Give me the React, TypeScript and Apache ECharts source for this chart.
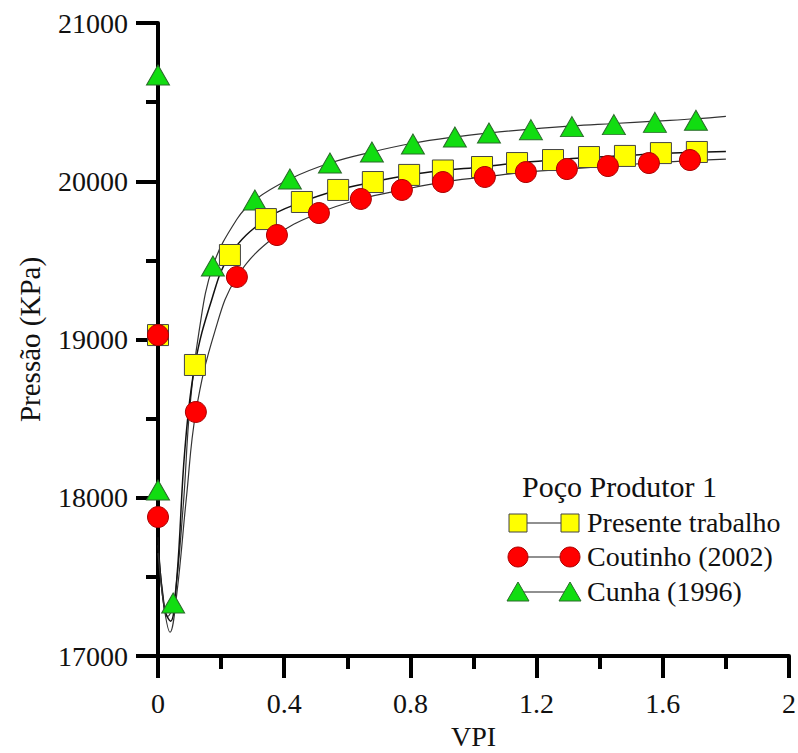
import React, { useEffect, useRef } from "react";
import * as echarts from "echarts";

// ---- Data ----
const squareX = [0, 0.117, 0.228, 0.342, 0.456, 0.571, 0.681, 0.796, 0.903, 1.027, 1.138, 1.252, 1.366, 1.48, 1.594, 1.708];
const squareY = [19028, 18839, 19534, 19761, 19869, 19945, 19995, 20040, 20068, 20090, 20115, 20134, 20153, 20160, 20178, 20185];

const circleX = [0, 0, 0.12, 0.25, 0.377, 0.51, 0.643, 0.773, 0.903, 1.036, 1.166, 1.296, 1.426, 1.556, 1.686];
const circleY = [19028, 17878, 18542, 19395, 19660, 19799, 19888, 19945, 19995, 20027, 20058, 20077, 20096, 20115, 20134];

const triX = [0, 0, 0.048, 0.174, 0.307, 0.418, 0.545, 0.678, 0.808, 0.941, 1.049, 1.182, 1.312, 1.445, 1.575, 1.705];
const triY = [20671, 18049, 17335, 19464, 19882, 20014, 20115, 20185, 20235, 20280, 20305, 20326, 20345, 20358, 20372, 20385];

// fitted curves
const curveSqX = [0, 0.02, 0.04, 0.06, 0.085, 0.117, 0.17, 0.228, 0.342, 0.456, 0.571, 0.681, 0.796, 0.903, 1.027, 1.138, 1.252, 1.366, 1.48, 1.594, 1.708, 1.8];
const curveSqY = [17750, 17300, 17220, 17500, 18300, 18839, 19250, 19534, 19761, 19869, 19945, 19995, 20040, 20068, 20090, 20115, 20134, 20150, 20162, 20175, 20183, 20188];

const curveCiX = [0, 0.02, 0.038, 0.06, 0.09, 0.12, 0.18, 0.25, 0.377, 0.51, 0.643, 0.773, 0.903, 1.036, 1.166, 1.296, 1.426, 1.556, 1.686, 1.8];
const curveCiY = [17650, 17300, 17150, 17400, 18000, 18542, 19050, 19395, 19660, 19799, 19888, 19945, 19995, 20027, 20058, 20077, 20096, 20115, 20130, 20140];

const curveTrX = [0, 0.015, 0.03, 0.05, 0.08, 0.1, 0.13, 0.174, 0.25, 0.307, 0.418, 0.545, 0.678, 0.808, 0.941, 1.049, 1.182, 1.312, 1.445, 1.575, 1.705, 1.8];
const curveTrY = [17700, 17400, 17250, 17330, 17950, 18550, 19050, 19464, 19760, 19882, 20014, 20115, 20185, 20240, 20280, 20305, 20330, 20350, 20365, 20380, 20395, 20410];

const legendTitle = "Poço Produtor 1";
const legendNames = ["Presente trabalho", "Coutinho (2002)", "Cunha (1996)"];

const FONT = "Liberation Serif";
const SQ_COLOR = "#ffff00";
const CI_COLOR = "#ff0000";
const TR_COLOR = "#11dd11";

const zip = (xs: number[], ys: number[]) => xs.map((x, i) => [x, ys[i]]);

export default function App() {
  const ref = useRef<HTMLDivElement>(null);
  useEffect(() => {
    if (!ref.current) return;
    const chart = echarts.init(ref.current, null, { renderer: "svg" });

    const curveStyle = { color: "#333", width: 1.2 };
    const legendY = [523, 557, 592];
    const lx1 = 518, lx2 = 570, tx = 587;

    const legendGraphics: any[] = [
      {
        type: "text", left: 522, top: 471,
        style: { text: legendTitle, fontFamily: FONT, fontSize: 30, fill: "#111" },
      },
    ];
    legendY.forEach((y, i) => {
      legendGraphics.push({ type: "line", shape: { x1: lx1, y1: y, x2: lx2, y2: y }, style: { stroke: "#222", lineWidth: 1.2 } });
      [lx1, lx2].forEach((cx) => {
        if (i === 0) legendGraphics.push({ type: "rect", shape: { x: cx - 9, y: y - 9, width: 18, height: 18 }, style: { fill: SQ_COLOR, stroke: "#444", lineWidth: 1 } });
        if (i === 1) legendGraphics.push({ type: "circle", shape: { cx, cy: y, r: 10 }, style: { fill: CI_COLOR, stroke: "#a00", lineWidth: 1 } });
        if (i === 2) legendGraphics.push({ type: "polygon", shape: { points: [[cx, y - 10], [cx + 11, y + 9], [cx - 11, y + 9]] }, style: { fill: TR_COLOR, stroke: "#2a6a2a", lineWidth: 1 } });
      });
      legendGraphics.push({
        type: "text", left: tx, top: y - 15,
        style: { text: legendNames[i], fontFamily: FONT, fontSize: 28, fill: "#111" },
      });
    });

    chart.setOption({
      animation: false,
      backgroundColor: "#fff",
      textStyle: { fontFamily: FONT },
      grid: { left: 158, right: 9, top: 23, bottom: 97, containLabel: false, outerBoundsMode: "none" },
      xAxis: {
        type: "value", min: 0, max: 2, interval: 0.4,
        name: "VPI", nameLocation: "middle", nameGap: 66,
        nameTextStyle: { fontFamily: FONT, fontSize: 28, color: "#111" },
        axisLine: { onZero: false, lineStyle: { color: "#000", width: 4 } },
        axisTick: { show: true, inside: false, length: 22, lineStyle: { width: 4, color: "#000" } },
        minorTick: { show: true, splitNumber: 2, length: 13, lineStyle: { width: 4, color: "#000" } },
        axisLabel: { margin: 33, fontFamily: FONT, fontSize: 28, color: "#111", formatter: (v: number) => String(v) },
        splitLine: { show: false },
      },
      yAxis: {
        type: "value", min: 17000, max: 21000, interval: 1000,
        name: "Pressão (KPa)", nameLocation: "middle", nameGap: 114, nameRotate: 90,
        nameTextStyle: { fontFamily: FONT, fontSize: 29, color: "#111" },
        axisLine: { onZero: false, lineStyle: { color: "#000", width: 4 } },
        axisTick: { show: true, inside: false, length: 22, lineStyle: { width: 4, color: "#000" } },
        minorTick: { show: true, splitNumber: 2, length: 12, lineStyle: { width: 4, color: "#000" } },
        axisLabel: { margin: 30, fontFamily: FONT, fontSize: 28, color: "#111", formatter: (v: number) => String(v) },
        splitLine: { show: false },
      },
      graphic: legendGraphics,
      series: [
        { type: "line", data: zip(curveTrX, curveTrY), showSymbol: false, smooth: 0.4, lineStyle: curveStyle, z: 1 },
        { type: "line", data: zip(curveSqX, curveSqY), showSymbol: false, smooth: 0.4, lineStyle: { color: "#111", width: 1.5 }, z: 1 },
        { type: "line", data: zip(curveCiX, curveCiY), showSymbol: false, smooth: 0.4, lineStyle: curveStyle, z: 1 },
        {
          type: "scatter", data: zip(triX, triY), symbol: "triangle", symbolSize: [23, 20],
          itemStyle: { color: TR_COLOR, borderColor: "#2a6a2a", borderWidth: 1, opacity: 1 }, z: 3,
        },
        {
          type: "scatter", data: zip(squareX, squareY), symbol: "rect", symbolSize: 21,
          itemStyle: { color: SQ_COLOR, borderColor: "#444", borderWidth: 1, opacity: 1 }, z: 4,
        },
        {
          type: "scatter", data: zip(circleX, circleY), symbol: "circle", symbolSize: 21,
          itemStyle: { color: CI_COLOR, borderColor: "#a00", borderWidth: 1, opacity: 1 }, z: 5,
        },
      ],
    });
    return () => chart.dispose();
  }, []);
  return <div ref={ref} style={{ width: 798, height: 753, position: "absolute", left: 0, top: 0 }} />;
}
